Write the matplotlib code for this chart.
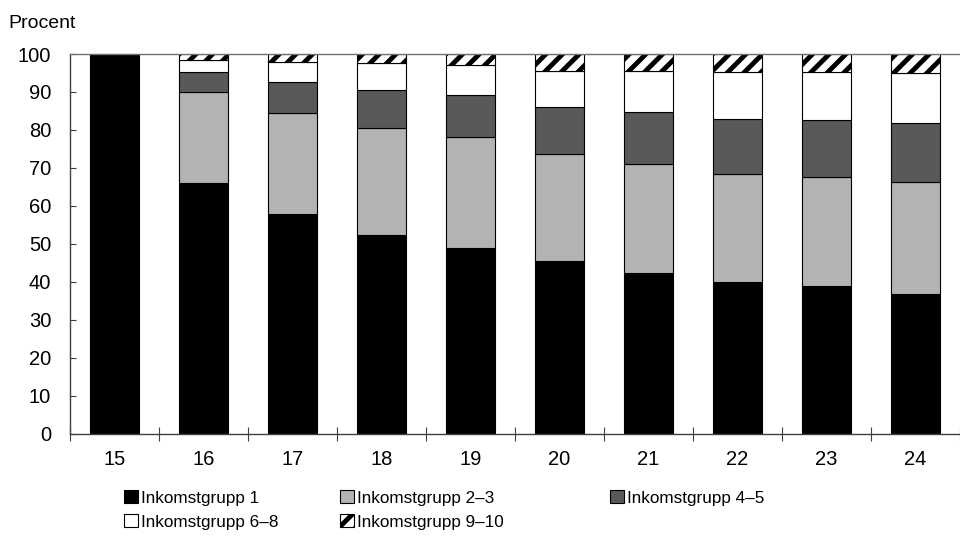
import matplotlib
matplotlib.use("Agg")
import matplotlib.pyplot as plt
import numpy as np

plt.rcParams['font.family'] = ['Liberation Sans', 'DejaVu Sans']
plt.rcParams['hatch.linewidth'] = 3.5

categories = ['15', '16', '17', '18', '19', '20', '21', '22', '23', '24']
g1 = [100, 66.1, 57.8, 52.2, 49.0, 45.4, 42.4, 40.0, 38.9, 36.8]
g23 = [0, 24.0, 26.7, 28.2, 29.2, 28.2, 28.6, 28.3, 28.6, 29.4]
g45 = [0, 5.2, 8.0, 10.1, 10.9, 12.5, 13.6, 14.6, 15.1, 15.6]
g68 = [0, 3.1, 5.3, 7.0, 8.0, 9.4, 10.9, 12.3, 12.6, 13.1]
g910 = [0, 1.6, 2.2, 2.5, 2.9, 4.5, 4.5, 4.8, 4.8, 5.1]
labels = ['Inkomstgrupp 1', 'Inkomstgrupp 2–3', 'Inkomstgrupp 4–5',
          'Inkomstgrupp 6–8', 'Inkomstgrupp 9–10']
yticks = [0, 10, 20, 30, 40, 50, 60, 70, 80, 90, 100]

fig = plt.figure(figsize=(9.6, 5.43), dpi=100)
W, H = 960, 543
ax = fig.add_axes([70 / W, (H - 433.5) / H, 1 - 70 / W, (433.5 - 54) / H])

x = np.arange(len(categories))
width = 0.55
series = [g1, g23, g45, g68, g910]
colors = ['black', '#b3b3b3', '#595959', 'white', 'white']
hatches = [None, None, None, None, '//']
bottom = np.zeros(len(categories))
handles = []
for vals, col, hat, lab in zip(series, colors, hatches, labels):
    vals = np.array(vals, dtype=float)
    bc = ax.bar(x, vals, width, bottom=bottom, color=col, edgecolor='black',
                linewidth=0.8, hatch=hat, label=lab)
    handles.append(bc)
    bottom += vals

ax.set_xlim(-0.5, -0.5 + 890 / 90)
ax.set_ylim(0, 100)
ax.set_yticks(yticks)
ax.set_xticks(x)
ax.set_xticklabels(categories)
ax.set_xticks(np.arange(-0.5, len(categories), 1), minor=True)
ax.tick_params(axis='x', which='major', length=0, pad=12, labelsize=14.5)
ax.tick_params(axis='x', which='minor', direction='inout', length=9.5, width=0.8, color='#404040')
ax.tick_params(axis='y', which='major', direction='in', length=4.5, width=0.8, pad=13.5,
               labelsize=14.5, color='#404040')
for s in ['left', 'bottom']:
    ax.spines[s].set_color('#404040')
    ax.spines[s].set_linewidth(1.0)
ax.spines['top'].set_color('#707070')
ax.spines['top'].set_linewidth(1.0)
ax.spines['right'].set_visible(False)

fig.text(8 / W, 1 - 28 / H, 'Procent', fontsize=14, va='baseline', ha='left')

legend_font = {'family': ['Liberation Sans', 'DejaVu Sans'], 'size': 12.3}
common = dict(frameon=False, prop=legend_font, handlelength=0.82, handleheight=0.82,
              handletextpad=0.2, labelspacing=0.5, borderaxespad=0, borderpad=0)
fig.legend([handles[0], handles[3]], [labels[0], labels[3]], loc='upper left',
           bbox_to_anchor=(124 / W, 1 - 490 / H), **common)
fig.legend([handles[1], handles[4]], [labels[1], labels[4]], loc='upper left',
           bbox_to_anchor=(340 / W, 1 - 490 / H), **common)
fig.legend([handles[2]], [labels[2]], loc='upper left',
           bbox_to_anchor=(610 / W, 1 - 490 / H), **common)

fig.savefig('out.png', dpi=100)
